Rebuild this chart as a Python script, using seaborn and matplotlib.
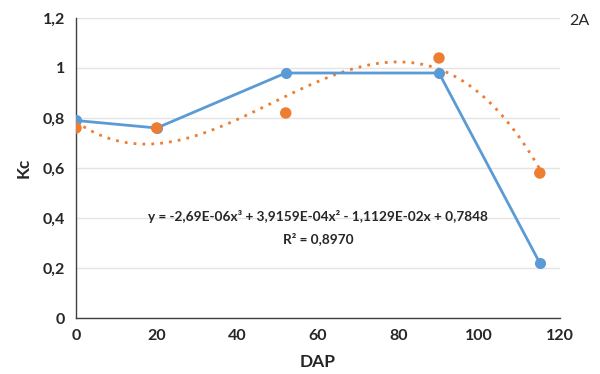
import numpy as np
import pandas as pd
import seaborn as sns
import matplotlib.pyplot as plt
from matplotlib.ticker import FuncFormatter

# chart data
dap = [0, 20, 52, 90, 115]
kc_blue = [0.79, 0.76, 0.98, 0.98, 0.22]
kc_orange = [0.76, 0.76, 0.82, 1.04, 0.58]
yticks = [0, 0.2, 0.4, 0.6, 0.8, 1.0, 1.2]
xticks = [0, 20, 40, 60, 80, 100, 120]

sns.set_style('white')
plt.rcParams['font.family'] = ['Lato', 'DejaVu Sans']

BLUE = '#5B9BD5'
ORANGE = '#ED7D31'

df = pd.DataFrame({'DAP': dap, 'blue': kc_blue, 'orange': kc_orange})

# cubic trendline fitted to the orange points (like the spreadsheet trendline)
coef = np.polyfit(df['DAP'], df['orange'], 3)
xs = np.linspace(min(dap), max(dap), 200)
trend = pd.DataFrame({'DAP': xs, 'fit': np.polyval(coef, xs)})

fig = plt.figure(figsize=(6, 3.74), dpi=100)
ax = fig.add_axes([0.1267, 0.1497, 0.8066, 0.8022])

sns.lineplot(data=trend, x='DAP', y='fit', ax=ax, color=ORANGE,
             linestyle=(0, (1, 2.2)), linewidth=2, zorder=2)
sns.lineplot(data=df, x='DAP', y='blue', ax=ax, color=BLUE, linewidth=2,
             marker='o', markersize=8, markeredgewidth=0, zorder=3)
sns.scatterplot(data=df, x='DAP', y='orange', ax=ax, color=ORANGE, s=68,
                edgecolor='none', zorder=4)

ax.set_xlim(0, 120)
ax.set_ylim(0, 1.2)
ax.set_xticks(xticks)
ax.set_yticks(yticks)
ax.yaxis.set_major_formatter(FuncFormatter(lambda v, p: ('%g' % round(v, 1)).replace('.', ',')))
ax.grid(axis='y', color='#e4e4e4', linewidth=1)
ax.set_axisbelow(True)
for s in ['top', 'right']:
    ax.spines[s].set_visible(False)
for s in ['left', 'bottom']:
    ax.spines[s].set_color('#404040')
    ax.spines[s].set_linewidth(1)
ax.tick_params(axis='both', length=0, labelsize=11.5, pad=8)
for lab in ax.get_xticklabels() + ax.get_yticklabels():
    lab.set_fontweight('bold')
ax.set_xlabel('DAP', fontsize=12.5, fontweight='bold', labelpad=8)
ax.set_ylabel('Kc', fontsize=12.5, fontweight='bold', labelpad=8)

ax.text(60, 0.408, 'y = -2,69E-06x³ + 3,9159E-04x² - 1,1129E-02x + 0,7848',
        ha='center', va='center', fontsize=9.8, fontweight='bold')
ax.text(60, 0.317, 'R² = 0,8970', ha='center', va='center',
        fontsize=9.8, fontweight='bold')
fig.text(0.966, 0.945, '2A', ha='center', va='center', fontsize=11.5)

fig.savefig('out.png', dpi=100)
